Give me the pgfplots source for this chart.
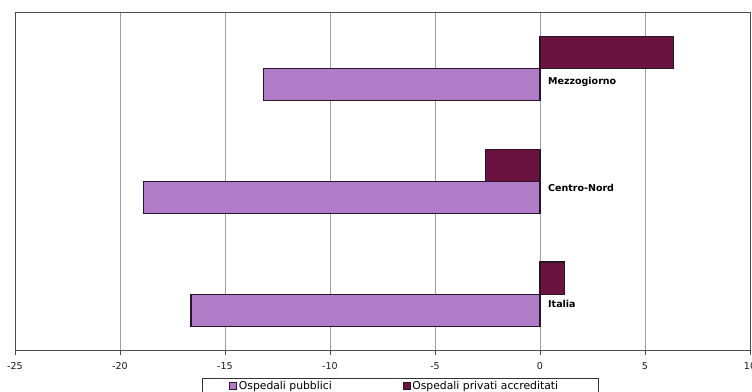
\documentclass[border=0pt]{standalone}
\usepackage{fontspec}
\setmainfont{DejaVu Sans}
\usepackage{pgfplots}
\pgfplotsset{compat=1.18}
\definecolor{pubb}{HTML}{B07CC8}
\definecolor{priv}{HTML}{6A1240}
\definecolor{edge}{HTML}{2A1428}
\begin{document}
\begin{tikzpicture}
\begin{axis}[
 name=ax,
 scale only axis, width=735pt, height=338.7pt,
 xmin=-25, xmax=10, ymin=-0.5, ymax=2.5,
 xtick={-25,-20,-15,-10,-5,0,5,10},
 xticklabels={-25,-20,-15,-10,-5,0,5,10},
 ytick=\empty,
 tick pos=left,
 xmajorgrids, grid style={draw=gray!75, line width=0.8pt},
 axis line style={draw=black!70, line width=0.8pt},
 tick align=outside, major tick length=4pt,
 xtick style={draw=black!70, line width=0.8pt},
 ticklabel style={font=\fontsize{9.5}{11}\selectfont, text=black!90},
 xticklabel style={yshift=-4.5pt},
 xbar, bar width=0.285,
 legend columns=2,
 legend style={at={(0.2544,-0.0806)}, anchor=north west, draw=black!80, line width=0.6pt,
   font=\fontsize{10.8}{13}\selectfont, inner xsep=27pt, inner ysep=1pt,
   /tikz/every even column/.append style={column sep=69pt}},
 legend image code/.code={\draw[#1, line width=0.6pt] (0pt,-3.5pt) rectangle (7pt,3.5pt);},
]
\addplot[fill=pubb, draw=edge, line width=1.2pt, bar shift=-0.1425] coordinates {(-16.62,0) (-18.89,1) (-13.16,2)};
\addplot[fill=priv, draw=edge, line width=1.2pt, bar shift=0.1425] coordinates {(1.16,0) (-2.60,1) (6.35,2)};
\legend{Ospedali pubblici, Ospedali privati accreditati\hspace*{11pt}}
\node[anchor=west, inner sep=0pt, font=\bfseries\fontsize{9.5}{11}\selectfont] at (axis cs:0.38,1.885) {Mezzogiorno};
\node[anchor=west, inner sep=0pt, font=\bfseries\fontsize{9.5}{11}\selectfont] at (axis cs:0.38,0.945) {Centro-Nord};
\node[anchor=west, inner sep=0pt, font=\bfseries\fontsize{9.5}{11}\selectfont] at (axis cs:0.38,-0.09) {Italia};
\end{axis}
\pgfresetboundingbox
\path[use as bounding box] ([xshift=-15pt,yshift=-41.3pt]ax.south west) rectangle ([xshift=2pt,yshift=12pt]ax.north east);
\end{tikzpicture}
\end{document}
